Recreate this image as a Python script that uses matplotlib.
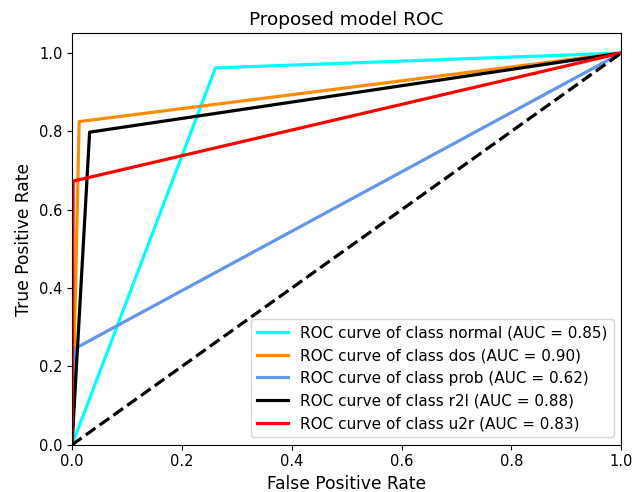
import numpy as np
import matplotlib
matplotlib.use("Agg")
import matplotlib.pyplot as plt

# ROC points (fpr, tpr of the single threshold)
classes = ["normal", "dos", "prob", "r2l", "u2r"]
fpr_mid = [0.261, 0.013, 0.007, 0.032, 0.002]
tpr_mid = [0.962, 0.825, 0.247, 0.798, 0.673]
auc_vals = [0.85, 0.90, 0.62, 0.88, 0.83]
colors = ["aqua", "darkorange", "cornflowerblue", "black", "red"]

plt.rcParams["xtick.labelsize"] = 10.5
plt.rcParams["ytick.labelsize"] = 10.5

fig = plt.figure(figsize=(6.32, 4.92), dpi=100)
ax = fig.add_axes([0.114, 0.096, 0.869, 0.836])

for name, f, t, a, c in zip(classes, fpr_mid, tpr_mid, auc_vals, colors):
    ax.plot([0, f, 1], [0, t, 1], color=c, lw=2.3,
            label=f"ROC curve of class {name} (AUC = {a:.2f})")

ax.plot([0, 1], [0, 1], "k--", lw=2.3)
ax.set_xlim([0.0, 1.0])
ax.set_ylim([0.0, 1.05])
ax.set_xlabel("False Positive Rate", fontsize=12.3)
ax.set_ylabel("True Positive Rate", fontsize=12.3)
ax.set_title("Proposed model ROC", fontsize=13.3)
ax.legend(loc="lower right", fontsize=11)

fig.savefig("out.png", dpi=100)
